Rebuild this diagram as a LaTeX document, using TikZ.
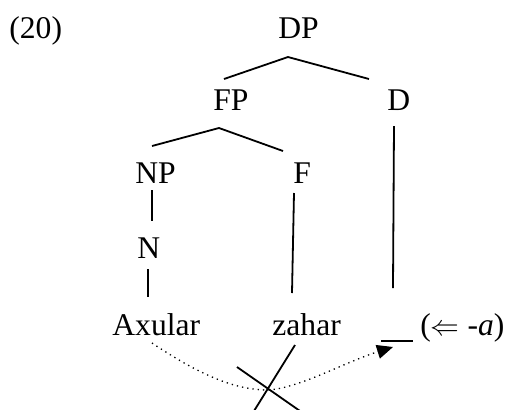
\documentclass[tikz,border=0pt]{standalone}
\usepackage{fontspec}
\setmainfont{Liberation Serif}
\usetikzlibrary{arrows.meta}
\begin{document}
\begin{tikzpicture}[x=0.5pt,y=-0.5pt,
  lbl/.style={anchor=base west,inner sep=0pt,font=\fontsize{15.8}{18}\selectfont},
  branch/.style={line width=0.9pt},
  mover/.style={dotted,line width=0.65pt,-{Triangle[length=8pt,width=7pt]}}]
\useasboundingbox (0,0) rectangle (510,409);
% labels
\node[lbl] (ex) at (9,38) {(20)};
\node[lbl] (dp) at (278,38) {DP};
\node[lbl] (fp) at (213,110) {FP};
\node[lbl] (d) at (387,110) {D};
\node[lbl] (np) at (135,183) {NP};
\node[lbl] (f) at (293,183) {F};
\node[lbl] (n) at (137,258) {N};
\node[lbl] (axular) at (112,335) {Axular};
\node[lbl] (zahar) at (272,335) {zahar};
\node[lbl] (affix) at (420,335) {($\Leftarrow$ -\textit{a})};
% branch end points
\coordinate (dpb) at (288,57);
\coordinate (fpt) at (224,79);
\coordinate (dt) at (369,79);
\coordinate (fpb) at (219,128);
\coordinate (npt) at (152,146);
\coordinate (ft) at (283,151);
\coordinate (db) at (394,126);
\coordinate (gapt) at (393,288);
\coordinate (npb) at (152,190);
\coordinate (nt) at (152,221);
\coordinate (nb) at (148,269);
\coordinate (axt) at (148,297);
\coordinate (fb) at (294,193);
\coordinate (zt) at (292,293);
\coordinate (gapl) at (381,341);
\coordinate (gapr) at (413,341);
\coordinate (src) at (152,343);
\coordinate (low) at (268,390);
\coordinate (tgt) at (393,347);
\coordinate (xa) at (295,345);
\coordinate (xb) at (254,411);
\coordinate (xc) at (237,367);
\coordinate (xd) at (300,411);
% tree
\draw[branch] (fpt) -- (dpb) -- (dt);
\draw[branch] (npt) -- (fpb) -- (ft);
\draw[branch] (db) -- (gapt);
\draw[branch] (npb) -- (nt);
\draw[branch] (nb) -- (axt);
\draw[branch] (fb) -- (zt);
\draw[branch] (gapl) -- (gapr);
% movement
\draw[mover] (src) .. controls (200,375) and (235,390) .. (low)
  .. controls (300,388) and (345,362) .. (tgt);
% cross
\draw[branch] (xa) -- (xb);
\draw[branch] (xc) -- (xd);
\end{tikzpicture}
\end{document}
